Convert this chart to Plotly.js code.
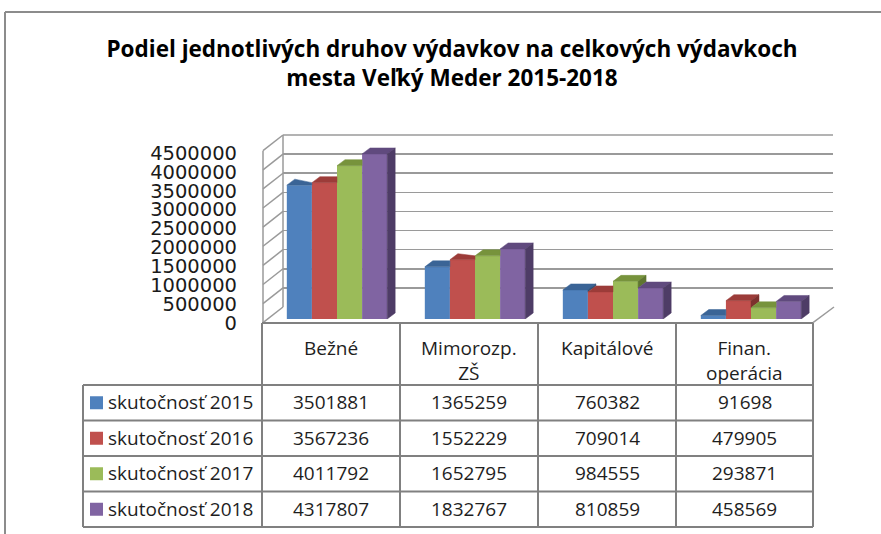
<!DOCTYPE html>
<html>
<head>
<meta charset="utf-8">
<script src="https://cdn.plot.ly/plotly-3.0.1.min.js"></script>
<style>html,body{margin:0;padding:0;background:#fff;}#chart{width:881px;height:534px;}</style>
</head>
<body>
<div id="chart"></div>
<script>
// ---- data ----
const categories = ['Bežné', 'Mimorozp.<br>ZŠ', 'Kapitálové', 'Finan.<br>operácia'];
const seriesNames = ['skutočnosť 2015', 'skutočnosť 2016', 'skutočnosť 2017', 'skutočnosť 2018'];
const v2015 = [3501881, 1365259, 760382, 91698];
const v2016 = [3567236, 1552229, 709014, 479905];
const v2017 = [4011792, 1652795, 984555, 293871];
const v2018 = [4317807, 1832767, 810859, 458569];
const yTickVals = [0, 500000, 1000000, 1500000, 2000000, 2500000, 3000000, 3500000, 4000000, 4500000];
const yTickText = ['0', '500000', '1000000', '1500000', '2000000', '2500000', '3000000', '3500000', '4000000', '4500000'];

// ---- styles ----
const frontColors = ['#4F81BD', '#C0504D', '#9BBB59', '#8064A2'];
const topColors = ['#3A6496', '#9C3C39', '#77933C', '#604A7E'];
const sideColors = ['#2E5078', '#7D302E', '#5F7630', '#4E3C66'];
const W = 881, H = 534;
const px = x => x / W;
const py = y => 1 - y / H;
const YMAX = 4500000;
const series = [v2015, v2016, v2017, v2018];
const xIdx = [0, 1, 2, 3];

const barW = 0.1818;
const dx = 8 / 138;
const dy = 6 * YMAX / 172;

const traces = [];
// grid subplot (drawn first, below bars)
traces.push({x: [null], y: [null], xaxis: 'x', yaxis: 'y', type: 'scatter', showlegend: false, hoverinfo: 'skip'});

series.forEach((vals, j) => {
  traces.push({
    type: 'bar', x: xIdx, y: vals, name: seriesNames[j],
    xaxis: 'x2', yaxis: 'y2',
    marker: {color: frontColors[j], line: {width: 0}},
    showlegend: false, hoverinfo: 'skip'
  });
});

// 3D faces derived from the values
series.forEach((vals, j) => {
  const tx = [], ty = [], sx = [], sy = [];
  vals.forEach((v, i) => {
    const x0 = i - 2 * barW + j * barW;
    const x1 = x0 + barW;
    const vn = j < 3 ? series[j + 1][i] : null;
    if (vn !== null && vn > v) {
      tx.push(x0, x1, x1, x0 + dx, x0, null);
      ty.push(v, v, Math.min(v + dy, vn), v + dy, v, null);
    } else {
      tx.push(x0, x1, x1 + dx, x0 + dx, x0, null);
      ty.push(v, v, v + dy, v + dy, v, null);
    }
    if (vn === null) {
      sx.push(x1, x1 + dx, x1 + dx, x1, x1, null);
      sy.push(v, v + dy, dy, 0, v, null);
    } else if (v > vn) {
      sx.push(x1, x1 + dx, x1 + dx, x1, x1, null);
      sy.push(v, v + dy, vn + dy, vn, v, null);
    }
  });
  traces.push({type: 'scatter', x: tx, y: ty, xaxis: 'x2', yaxis: 'y2', mode: 'lines', fill: 'toself',
    fillcolor: topColors[j], line: {color: topColors[j], width: 0.5}, showlegend: false, hoverinfo: 'skip', connectgaps: false});
  if (sx.length) {
    traces.push({type: 'scatter', x: sx, y: sy, xaxis: 'x2', yaxis: 'y2', mode: 'lines', fill: 'toself',
      fillcolor: sideColors[j], line: {color: sideColors[j], width: 0.5}, showlegend: false, hoverinfo: 'skip', connectgaps: false});
  }
});

// tick label axis (own subplot)
traces.push({x: [null], y: [null], xaxis: 'x3', yaxis: 'y3', type: 'scatter', showlegend: false, hoverinfo: 'skip'});

// ---- decorative geometry ----
const gridColor = '#9a9a9a';
const tableColor = '#808080';
const shapes = [];
const line = (x0, y0, x1, y1, color, width) => shapes.push({type: 'line', xref: 'paper', yref: 'paper',
  x0: px(x0), y0: py(y0), x1: px(x1), y1: py(y1), line: {color: color, width: width}, layer: 'below'});

// outer frame
line(5, 12, 881, 12, '#8c8c8c', 2);
line(5, 12, 5, 534, '#8c8c8c', 2);
// left wall
const k = 172 / YMAX;
line(263, 150.7, 263, 322.7, gridColor, 1.5);
line(283, 135, 283, 307, gridColor, 1.5);
yTickVals.forEach(v => line(263, 322.7 - v * k, 283, 307 - v * k, gridColor, 1.5));
// back wall top edge
line(283, 135, 833, 135, gridColor, 1.5);
// floor right edge
line(813, 322.7, 834, 307, gridColor, 1.5);

// table
const colX = [262, 400, 538, 676, 813];
const rowY = [385, 420.5, 456, 491.5, 527];
const tableTop = 323;
const tableLeft = 83;
colX.forEach(x => line(x, tableTop, x, 527, tableColor, 2));
line(262, tableTop, 813, tableTop, tableColor, 2);
rowY.forEach(y => line(tableLeft, y, 813, y, tableColor, 2));
line(tableLeft, 385, tableLeft, 527, tableColor, 2);

// legend keys
for (let j = 0; j < 4; j++) {
  const cy = (rowY[j] + rowY[j + 1]) / 2;
  shapes.push({type: 'rect', xref: 'paper', yref: 'paper', x0: px(90), x1: px(103), y0: py(cy + 6.5), y1: py(cy - 6.5),
    fillcolor: frontColors[j], line: {width: 0}, layer: 'above'});
}

const tFont = {family: 'Open Sans, sans-serif', size: 19, color: '#1e1e1e'};
const annotations = [];
categories.forEach((c, i) => {
  annotations.push({xref: 'paper', yref: 'paper', x: px((colX[i] + colX[i + 1]) / 2), y: py(333),
    xanchor: 'center', yanchor: 'top', text: c, showarrow: false, font: tFont, align: 'center'});
});
series.forEach((vals, j) => {
  const cy = (rowY[j] + rowY[j + 1]) / 2;
  annotations.push({xref: 'paper', yref: 'paper', x: px(106), y: py(cy - 0.5), xanchor: 'left', yanchor: 'middle',
    text: seriesNames[j], showarrow: false, font: tFont});
  vals.forEach((v, i) => {
    annotations.push({xref: 'paper', yref: 'paper', x: px((colX[i] + colX[i + 1]) / 2), y: py(cy - 0.5),
      xanchor: 'center', yanchor: 'middle', text: String(v), showarrow: false, font: tFont});
  });
});

const hidden = {showgrid: false, zeroline: false, showline: false, showticklabels: false, ticks: ''};

const layout = {
  width: W, height: H,
  margin: {l: 0, r: 0, t: 0, b: 0},
  paper_bgcolor: '#ffffff', plot_bgcolor: 'rgba(0,0,0,0)',
  showlegend: false,
  title: {
    text: '<b>Podiel jednotlivých druhov výdavkov na celkových výdavkoch<br>mesta Veľký Meder 2015-2018</b>',
    font: {family: 'Open Sans, sans-serif', size: 22.5, color: '#000000'},
    x: px(452), xanchor: 'center', xref: 'paper',
    y: py(57), yanchor: 'top', yref: 'paper'
  },
  xaxis: Object.assign({}, hidden, {domain: [px(283), px(833)], range: [0, 1], anchor: 'y', fixedrange: true}),
  yaxis: {domain: [py(307), py(135)], range: [0, YMAX], anchor: 'x', showgrid: true, gridcolor: gridColor, gridwidth: 1.5,
    tickmode: 'array', tickvals: yTickVals, showticklabels: false, zeroline: false, showline: false, ticks: '', fixedrange: true},
  xaxis2: Object.assign({}, hidden, {domain: [px(268), px(820)], range: [-0.5, 3.5], anchor: 'y2', fixedrange: true}),
  yaxis2: Object.assign({}, hidden, {domain: [py(319), py(147)], range: [0, YMAX], anchor: 'x2', fixedrange: true}),
  xaxis3: Object.assign({}, hidden, {domain: [px(238), px(246)], range: [0, 1], anchor: 'y3', fixedrange: true}),
  yaxis3: {domain: [py(323), py(153)], range: [0, YMAX], anchor: 'x3', side: 'left',
    tickmode: 'array', tickvals: yTickVals, ticktext: yTickText, showgrid: false, zeroline: false, showline: false, ticks: '',
    tickfont: {family: 'DejaVu Sans, sans-serif', size: 19.5, color: '#1a1a1a'}, fixedrange: true},
  barmode: 'group', bargap: 0.2727, bargroupgap: 0,
  shapes: shapes,
  annotations: annotations
};

Plotly.newPlot('chart', traces, layout, {displayModeBar: false, staticPlot: true});
</script>
</body>
</html>
